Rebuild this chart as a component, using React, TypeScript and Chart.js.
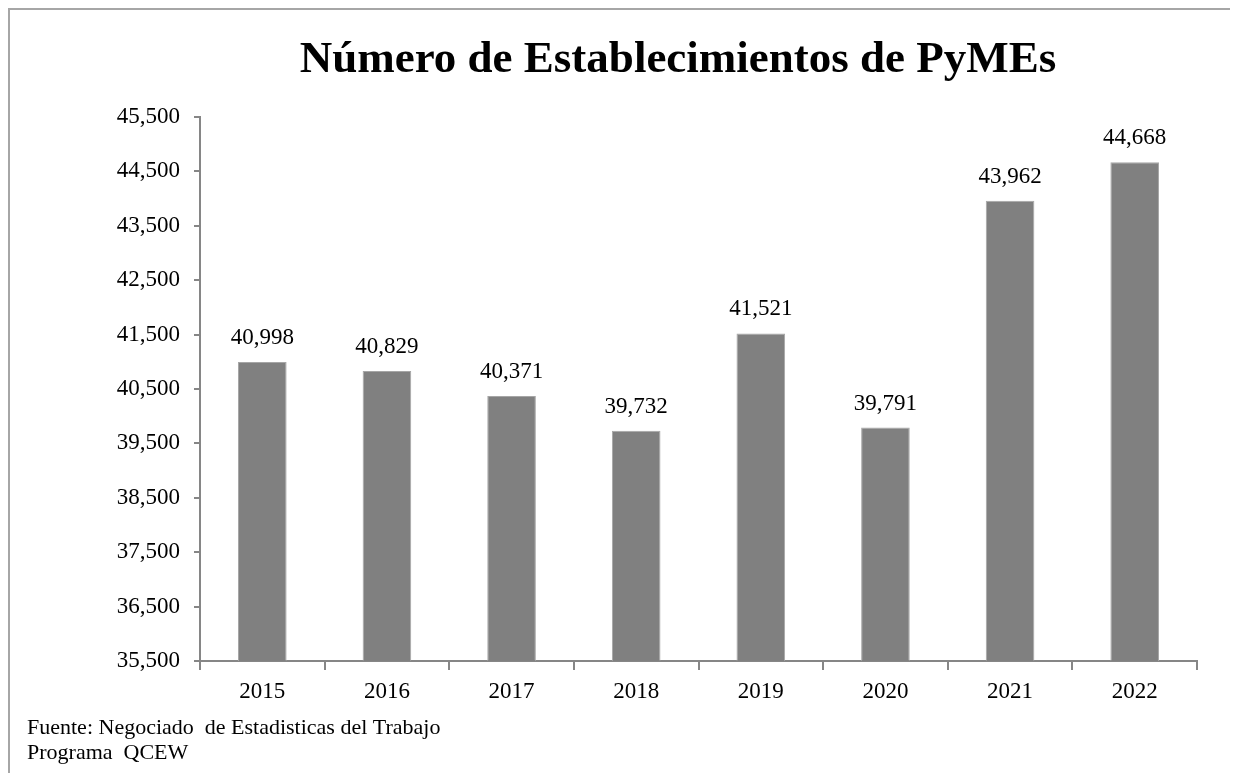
import React, { useEffect, useRef } from "react";
import { Chart, registerables } from "chart.js";

Chart.register(...registerables);

const title = "Número de Establecimientos de PyMEs";
const years = ["2015", "2016", "2017", "2018", "2019", "2020", "2021", "2022"];
const establishments = [40998, 40829, 40371, 39732, 41521, 39791, 43962, 44668];
const yMin = 35500;
const yMax = 45500;
const yStep = 1000;
const sourceLines = ["Fuente: Negociado  de Estadisticas del Trabajo", "Programa  QCEW"];

const SERIF = "'Liberation Serif', 'Times New Roman', serif";
const fmt = (v: number) => v.toLocaleString("en-US");

const textPlugin = {
  id: "textPlugin",
  afterDatasetsDraw(chart: any) {
    const ctx = chart.ctx;
    const meta = chart.getDatasetMeta(0);
    ctx.save();
    ctx.fillStyle = "#000";
    ctx.font = `23px ${SERIF}`;
    ctx.textAlign = "center";
    ctx.textBaseline = "alphabetic";
    meta.data.forEach((bar: any, i: number) => {
      ctx.fillText(fmt(establishments[i]), bar.x, bar.y - 18);
    });
    ctx.restore();
  },
  afterDraw(chart: any) {
    const ctx = chart.ctx;
    ctx.save();
    ctx.fillStyle = "#000";
    ctx.textBaseline = "alphabetic";
    ctx.font = `bold 45px ${SERIF}`;
    ctx.textAlign = "center";
    ctx.fillText(title, 668, 62);
    ctx.font = `22px ${SERIF}`;
    ctx.textAlign = "left";
    sourceLines.forEach((line, i) => {
      ctx.fillText(line, 17, 724 + i * 25);
    });
    ctx.restore();
  },
};

export default function App() {
  const ref = useRef<HTMLCanvasElement>(null);
  useEffect(() => {
    if (!ref.current) return;
    const chart = new Chart(ref.current, {
      type: "bar",
      data: {
        labels: years,
        datasets: [
          {
            data: establishments,
            backgroundColor: "#808080",
            borderColor: "#a6a6a6",
            borderWidth: 1,
            categoryPercentage: 1,
            barPercentage: 0.39,
          },
        ],
      },
      options: {
        animation: false,
        responsive: false,
        devicePixelRatio: 1,
        layout: { padding: { top: 107, right: 41, bottom: 52, left: 0 } },
        plugins: { legend: { display: false }, tooltip: { enabled: false }, title: { display: false } },
        scales: {
          x: {
            grid: { display: true, drawOnChartArea: false, drawTicks: true, tickLength: 9, color: "#868686", lineWidth: 2, offset: true },
            border: { display: true, color: "#868686", width: 2 },
            ticks: { color: "#000", font: { family: SERIF, size: 23 }, padding: 8, maxRotation: 0 },
            afterFit(scale: any) {
              scale.height = 60;
            },
          },
          y: {
            min: yMin,
            max: yMax,
            grid: { display: true, drawOnChartArea: false, drawTicks: true, tickLength: 6, color: "#868686", lineWidth: 2 },
            border: { display: true, color: "#868686", width: 2 },
            ticks: {
              stepSize: yStep,
              color: "#000",
              font: { family: SERIF, size: 23 },
              padding: 14,
              callback: (v: any) => fmt(Number(v)),
            },
            afterFit(scale: any) {
              scale.width = 190;
            },
          },
        },
      },
      plugins: [textPlugin],
    });
    return () => chart.destroy();
  }, []);
  return (
    <div
      style={{
        width: 1228,
        height: 763,
        borderLeft: "2px solid #a6a6a6",
        borderTop: "2px solid #a6a6a6",
        background: "#fff",
      }}
    >
      <canvas ref={ref} width={1228} height={763} style={{ display: "block" }} />
    </div>
  );
}
